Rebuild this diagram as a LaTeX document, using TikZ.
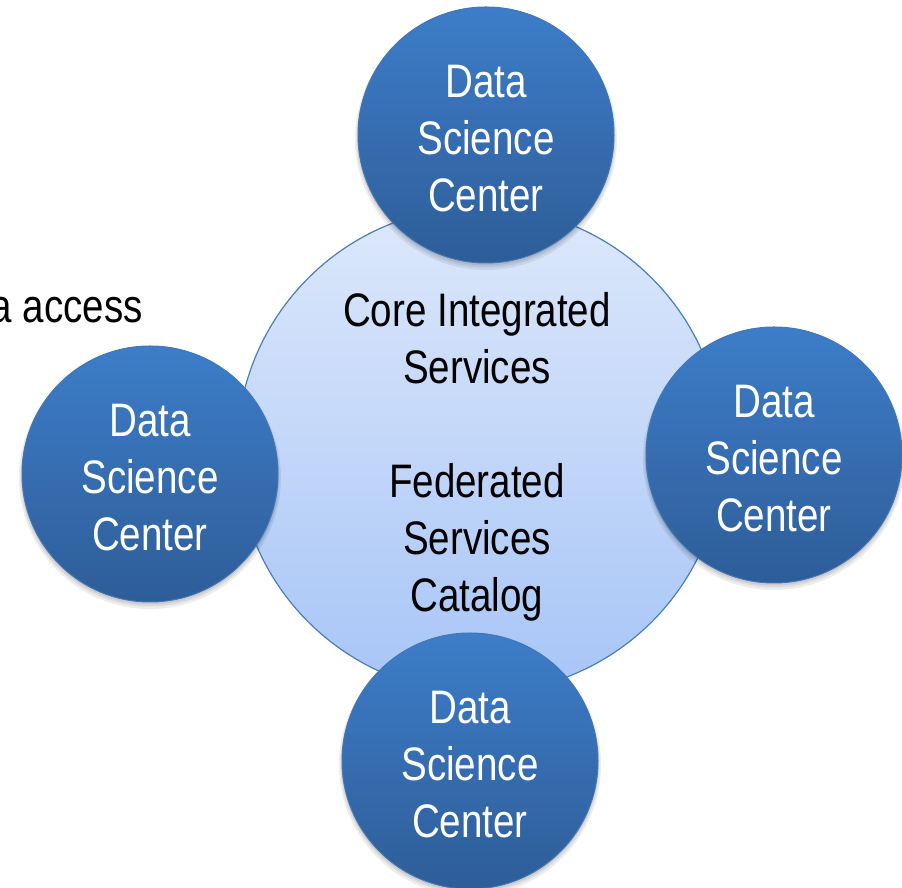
\documentclass[tikz,border=0pt]{standalone}
\usepackage{fontspec}
\setmainfont{Liberation Sans}[FakeStretch=0.82]
\definecolor{dscTop}{HTML}{3D7DC9}
\definecolor{dscBot}{HTML}{2E5D98}
\definecolor{dscEdge}{HTML}{4276B6}
\definecolor{coreTop}{HTML}{DDE8FB}
\definecolor{coreBot}{HTML}{A7C5F7}
\definecolor{coreEdge}{HTML}{4A7EBB}
\tikzset{
  dsc/.style={circle, minimum size=256pt, inner sep=0pt, top color=dscTop, bottom color=dscBot,
    draw=dscEdge, line width=1pt},
  dsctext/.style={align=center, font=\fontsize{47}{57}\selectfont, text=white, inner sep=0pt, yshift=-4pt},
  core/.style={circle, minimum size=486pt, inner sep=0pt, top color=coreTop, bottom color=coreBot,
    draw=coreEdge, line width=1.2pt},
  bigtext/.style={align=center, font=\fontsize{47}{57}\selectfont, text=black, inner sep=0pt},
  softshadow/.style={fill=black, opacity=0.07}
}
\begin{document}
\begin{tikzpicture}[x=1pt,y=1pt]
  \useasboundingbox (0,0) rectangle (902,888);
  % central circle
  \node[core] (core) at (480,438) {};
  \node[bigtext] (coretext) at (477,431) {Core Integrated\\Services\\[57pt]Federated\\Services\\Catalog};
  % shadows
  \foreach \cx/\cy in {486/753, 150/414, 774/433, 470/127}{
    \fill[softshadow] (\cx,\cy-4) circle (131);
    \fill[softshadow] (\cx,\cy-3) circle (129.5);
    \fill[softshadow] (\cx,\cy-2) circle (128.5);
  }
  % data science centers
  \node[dsc] (top) at (486,753) {};
  \node[dsctext] (toptext) at (top) {Data\\Science\\Center};
  \node[dsc] (left) at (150,414) {};
  \node[dsctext] (lefttext) at (left) {Data\\Science\\Center};
  \node[dsc] (right) at (774,433) {};
  \node[dsctext] (righttext) at (right) {Data\\Science\\Center};
  \node[dsc] (bottom) at (470,127) {};
  \node[dsctext] (bottomtext) at (bottom) {Data\\Science\\Center};
  % cropped label
  \node[bigtext, anchor=base east] (access) at (143,565) {a access};
\end{tikzpicture}
\end{document}
